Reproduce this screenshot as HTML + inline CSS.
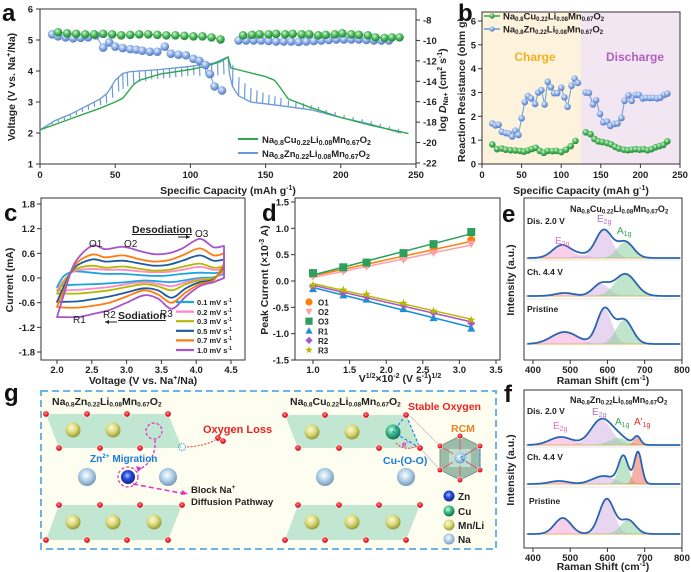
<!DOCTYPE html>
<html><head><meta charset="utf-8">
<style>
body{margin:0;background:#fff;}
svg{display:block;font-family:"Liberation Sans",Arial,sans-serif;}
.t{font-size:9.5px;font-weight:bold;fill:#222;}
.lab{font-size:10.5px;font-weight:bold;fill:#222;}
.pl{font-size:24px;font-weight:bold;fill:#111;}
</style></head>
<body>
<svg id="fig" width="691" height="572" viewBox="0 0 691 572">
<defs>
<radialGradient id="gY" cx="40%" cy="35%" r="65%"><stop offset="0" stop-color="#fbfbd8"/><stop offset="0.5" stop-color="#dcdc80"/><stop offset="1" stop-color="#9a9a30"/></radialGradient>
<radialGradient id="gNa" cx="45%" cy="40%" r="65%"><stop offset="0" stop-color="#ffffff"/><stop offset="0.45" stop-color="#b8d4ec"/><stop offset="1" stop-color="#6a8eae"/></radialGradient>
<radialGradient id="gZn" cx="45%" cy="40%" r="65%"><stop offset="0" stop-color="#a8c8ff"/><stop offset="0.4" stop-color="#2a50e0"/><stop offset="1" stop-color="#101a80"/></radialGradient>
<radialGradient id="gCu" cx="40%" cy="35%" r="65%"><stop offset="0" stop-color="#c8ffe8"/><stop offset="0.5" stop-color="#3ab880"/><stop offset="1" stop-color="#127050"/></radialGradient>
<radialGradient id="gGb" cx="40%" cy="35%" r="65%"><stop offset="0" stop-color="#d8f5d8"/><stop offset="0.5" stop-color="#4cbb5a"/><stop offset="1" stop-color="#23803a"/></radialGradient>
<radialGradient id="gBb" cx="40%" cy="35%" r="65%"><stop offset="0" stop-color="#eef4ff"/><stop offset="0.5" stop-color="#8eb0e8"/><stop offset="1" stop-color="#5078c0"/></radialGradient>
<radialGradient id="gO" cx="45%" cy="40%" r="60%"><stop offset="0" stop-color="#ff9090"/><stop offset="0.6" stop-color="#e81c24"/><stop offset="1" stop-color="#b00010"/></radialGradient>
</defs>

<!-- PANEL A -->
<g id="pa">
<text class="pl" x="2" y="21">a</text>
<rect x="40" y="9" width="376" height="155" fill="none" stroke="#333" stroke-width="1"/>
<g id="aMarks"></g>
<text class="lab" transform="translate(15,87) rotate(-90)" text-anchor="middle">Voltage (V vs. Na<tspan font-size="7" dy="-4">+</tspan><tspan dy="4">/Na)</tspan></text>
<text class="lab" transform="translate(446,90) rotate(-90)" text-anchor="middle">log <tspan font-style="italic">D</tspan><tspan font-size="7" dy="2">Na+</tspan><tspan dy="-2"> (cm</tspan><tspan font-size="7" dy="-4">2</tspan><tspan dy="4"> s</tspan><tspan font-size="7" dy="-4">-1</tspan><tspan dy="4">)</tspan></text>
<text class="lab" x="228" y="194" text-anchor="middle">Specific Capacity (mAh g<tspan font-size="7" dy="-4">-1</tspan><tspan dy="4">)</tspan></text>
<line x1="238" y1="139" x2="258" y2="139" stroke="#2ea84a" stroke-width="2"/>
<text class="t" x="262" y="143" font-size="10">Na<tspan font-size="7" dy="2">0.8</tspan><tspan dy="-2">Cu</tspan><tspan font-size="7" dy="2">0.22</tspan><tspan dy="-2">Li</tspan><tspan font-size="7" dy="2">0.08</tspan><tspan dy="-2">Mn</tspan><tspan font-size="7" dy="2">0.67</tspan><tspan dy="-2">O</tspan><tspan font-size="7" dy="2">2</tspan></text>
<line x1="238" y1="153" x2="258" y2="153" stroke="#6a9ad8" stroke-width="2"/>
<text class="t" x="262" y="157" font-size="10">Na<tspan font-size="7" dy="2">0.8</tspan><tspan dy="-2">Zn</tspan><tspan font-size="7" dy="2">0.22</tspan><tspan dy="-2">Li</tspan><tspan font-size="7" dy="2">0.08</tspan><tspan dy="-2">Mn</tspan><tspan font-size="7" dy="2">0.67</tspan><tspan dy="-2">O</tspan><tspan font-size="7" dy="2">2</tspan></text>
</g>

<!-- PANEL B -->
<g id="pb">
<text class="pl" x="458" y="21">b</text>
<rect x="482" y="12" width="99" height="152" fill="#fdf3dc"/>
<rect x="581" y="12" width="99" height="152" fill="#f2e6f2"/>
<rect x="482" y="12" width="198" height="152" fill="none" stroke="#333"/>
<text x="535" y="61" text-anchor="middle" font-size="12" font-weight="bold" fill="#f5b021">Charge</text>
<text x="635" y="61" text-anchor="middle" font-size="12" font-weight="bold" fill="#b060c0">Discharge</text>
<g id="bMarks"></g>
<text class="lab" transform="translate(465,90) rotate(-90)" text-anchor="middle">Reaction Resistance (ohm g)</text>
<text class="lab" x="581" y="194" text-anchor="middle">Specific Capacity (mAh g<tspan font-size="7" dy="-4">-1</tspan><tspan dy="4">)</tspan></text>
<line x1="484" y1="16" x2="500" y2="16" stroke="#2ea84a" stroke-width="1.5"/><circle cx="492" cy="16" r="2.6" fill="url(#gGb)"/>
<text class="t" x="503" y="19.5" font-size="9.5">Na<tspan font-size="6" dy="1.5">0.8</tspan><tspan dy="-1.5">Cu</tspan><tspan font-size="6" dy="1.5">0.22</tspan><tspan dy="-1.5">Li</tspan><tspan font-size="6" dy="1.5">0.08</tspan><tspan dy="-1.5">Mn</tspan><tspan font-size="6" dy="1.5">0.67</tspan><tspan dy="-1.5">O</tspan><tspan font-size="6" dy="1.5">2</tspan></text>
<line x1="484" y1="29" x2="500" y2="29" stroke="#6a9ad8" stroke-width="1.5"/><circle cx="492" cy="29" r="2.6" fill="url(#gBb)"/>
<text class="t" x="503" y="32.5" font-size="9.5">Na<tspan font-size="6" dy="1.5">0.8</tspan><tspan dy="-1.5">Zn</tspan><tspan font-size="6" dy="1.5">0.22</tspan><tspan dy="-1.5">Li</tspan><tspan font-size="6" dy="1.5">0.08</tspan><tspan dy="-1.5">Mn</tspan><tspan font-size="6" dy="1.5">0.67</tspan><tspan dy="-1.5">O</tspan><tspan font-size="6" dy="1.5">2</tspan></text>
</g>

<!-- PANEL C -->
<g id="pc">
<text class="pl" x="4" y="221">c</text>
<rect x="41" y="198" width="204" height="162" fill="none" stroke="#333"/>
<g id="cMarks"></g>
<text class="lab" transform="translate(13,280) rotate(-90)" text-anchor="middle">Current (mA)</text>
<text class="lab" x="143" y="384" text-anchor="middle">Voltage (V vs. Na<tspan font-size="7" dy="-4">+</tspan><tspan dy="4">/Na)</tspan></text>
<text x="89" y="247" font-size="10" fill="#222">O1</text>
<text x="124" y="247" font-size="10" fill="#222">O2</text>
<text x="195" y="237" font-size="10" fill="#222">O3</text>
<text x="73" y="323" font-size="10" fill="#222">R1</text>
<text x="103" y="318" font-size="10" fill="#222">R2</text>
<text x="160" y="317" font-size="10" fill="#222">R3</text>
<text x="132" y="233" font-size="10.5" font-weight="bold" fill="#222" text-decoration="underline">Desodiation</text>
<path d="M178 237 L190 237" stroke="#222" stroke-width="1"/><path d="M190 237 l-4 -2 v4z" fill="#222"/>
<text x="118" y="319" font-size="10.5" font-weight="bold" fill="#222" text-decoration="underline">Sodiation</text>
<path d="M105 322 L117 322" stroke="#222" stroke-width="1"/><path d="M105 322 l4 -2 v4z" fill="#222"/>
<g id="cLegend"></g>
<text x="197" y="305" font-size="7.5" font-weight="bold" fill="#222">0.1 mV s<tspan font-size="5" dy="-3">-1</tspan></text>
<text x="197" y="315" font-size="7.5" font-weight="bold" fill="#222">0.2 mV s<tspan font-size="5" dy="-3">-1</tspan></text>
<text x="197" y="324" font-size="7.5" font-weight="bold" fill="#222">0.3 mV s<tspan font-size="5" dy="-3">-1</tspan></text>
<text x="197" y="334" font-size="7.5" font-weight="bold" fill="#222">0.5 mV s<tspan font-size="5" dy="-3">-1</tspan></text>
<text x="197" y="343" font-size="7.5" font-weight="bold" fill="#222">0.7 mV s<tspan font-size="5" dy="-3">-1</tspan></text>
<text x="197" y="353" font-size="7.5" font-weight="bold" fill="#222">1.0 mV s<tspan font-size="5" dy="-3">-1</tspan></text>
</g>

<!-- PANEL D -->
<g id="pd">
<text class="pl" x="262" y="221">d</text>
<rect x="295" y="198" width="205" height="162" fill="none" stroke="#333"/>
<g id="dMarks"></g>
<text class="lab" transform="translate(268,280) rotate(-90)" text-anchor="middle">Peak Current (×10<tspan font-size="7" dy="-4">-3</tspan><tspan dy="4"> A)</tspan></text>
<text class="lab" x="400" y="382" text-anchor="middle">V<tspan font-size="7" dy="-4">1/2</tspan><tspan dy="4">×10</tspan><tspan font-size="7" dy="-4">-2</tspan><tspan dy="4"> (V s</tspan><tspan font-size="7" dy="-4">-1</tspan><tspan dy="4">)</tspan><tspan font-size="7" dy="-4">1/2</tspan></text>
<g id="dLegend"></g>
</g>

<!-- PANEL E -->
<g id="pe">
<text class="pl" x="502" y="222">e</text>
<rect x="524" y="198" width="158" height="162" fill="none" stroke="#333"/>
<g id="eMarks"></g>
<text x="570" y="212" font-size="9" font-weight="bold" fill="#222">Na<tspan font-size="6" dy="1.5">0.8</tspan><tspan dy="-1.5">Cu</tspan><tspan font-size="6" dy="1.5">0.22</tspan><tspan dy="-1.5">Li</tspan><tspan font-size="6" dy="1.5">0.08</tspan><tspan dy="-1.5">Mn</tspan><tspan font-size="6" dy="1.5">0.67</tspan><tspan dy="-1.5">O</tspan><tspan font-size="6" dy="1.5">2</tspan></text>
<text x="527" y="224" font-size="8.5" font-weight="bold" fill="#222">Dis. 2.0 V</text>
<text x="527" y="275" font-size="8.5" font-weight="bold" fill="#222">Ch. 4.4 V</text>
<text x="527" y="312" font-size="8.5" font-weight="bold" fill="#222">Pristine</text>
<text x="555" y="244" font-size="10" fill="#f06ac0">E<tspan font-size="7" dy="2">2g</tspan></text>
<text x="597" y="222" font-size="10" fill="#b070c8">E<tspan font-size="7" dy="2">2g</tspan></text>
<text x="617" y="234" font-size="10" fill="#30a850">A<tspan font-size="7" dy="2">1g</tspan></text>
<text class="lab" transform="translate(514,280) rotate(-90)" text-anchor="middle">Intensity (a.u.)</text>
<text class="lab" x="603" y="384" text-anchor="middle">Raman Shift (cm<tspan font-size="7" dy="-4">-1</tspan><tspan dy="4">)</tspan></text>
</g>

<!-- PANEL F -->
<g id="pf">
<text class="pl" x="504" y="402">f</text>
<rect x="524" y="390" width="158" height="158" fill="none" stroke="#333"/>
<g id="fMarks"></g>
<text x="570" y="403" font-size="9" font-weight="bold" fill="#222">Na<tspan font-size="6" dy="1.5">0.8</tspan><tspan dy="-1.5">Zn</tspan><tspan font-size="6" dy="1.5">0.22</tspan><tspan dy="-1.5">Li</tspan><tspan font-size="6" dy="1.5">0.08</tspan><tspan dy="-1.5">Mn</tspan><tspan font-size="6" dy="1.5">0.67</tspan><tspan dy="-1.5">O</tspan><tspan font-size="6" dy="1.5">2</tspan></text>
<text x="527" y="414" font-size="8.5" font-weight="bold" fill="#222">Dis. 2.0 V</text>
<text x="527" y="460" font-size="8.5" font-weight="bold" fill="#222">Ch. 4.4 V</text>
<text x="529" y="504" font-size="8.5" font-weight="bold" fill="#222">Pristine</text>
<text x="553" y="429" font-size="10" fill="#f06ac0">E<tspan font-size="7" dy="2">2g</tspan></text>
<text x="592" y="415" font-size="10" fill="#b070c8">E<tspan font-size="7" dy="2">2g</tspan></text>
<text x="615" y="425" font-size="10" fill="#30a850">A<tspan font-size="7" dy="2">1g</tspan></text>
<text x="634" y="425" font-size="10" fill="#ee2a2a">A'<tspan font-size="7" dy="2">1g</tspan></text>
<text class="lab" transform="translate(514,470) rotate(-90)" text-anchor="middle">Intensity (a.u.)</text>
<text class="lab" x="603" y="570" text-anchor="middle">Raman Shift (cm<tspan font-size="7" dy="-4">-1</tspan><tspan dy="4">)</tspan></text>
</g>

<!-- PANEL G -->
<g id="pg">
<text class="pl" x="4" y="401">g</text>
<rect x="41" y="391" width="455" height="158" fill="#fdfdf0" stroke="#6cb4e8" stroke-width="2" stroke-dasharray="7 4"/>
<g id="gStruct"></g>
<text x="52" y="405" font-size="10.5" font-weight="bold" fill="#222">Na<tspan font-size="6.5" dy="1.5">0.8</tspan><tspan dy="-1.5">Zn</tspan><tspan font-size="6.5" dy="1.5">0.22</tspan><tspan dy="-1.5">Li</tspan><tspan font-size="6.5" dy="1.5">0.08</tspan><tspan dy="-1.5">Mn</tspan><tspan font-size="6.5" dy="1.5">0.67</tspan><tspan dy="-1.5">O</tspan><tspan font-size="6.5" dy="1.5">2</tspan></text>
<text x="290" y="405" font-size="10.5" font-weight="bold" fill="#222">Na<tspan font-size="6.5" dy="1.5">0.8</tspan><tspan dy="-1.5">Cu</tspan><tspan font-size="6.5" dy="1.5">0.22</tspan><tspan dy="-1.5">Li</tspan><tspan font-size="6.5" dy="1.5">0.08</tspan><tspan dy="-1.5">Mn</tspan><tspan font-size="6.5" dy="1.5">0.67</tspan><tspan dy="-1.5">O</tspan><tspan font-size="6.5" dy="1.5">2</tspan></text>
<text x="203" y="433" font-size="11" font-weight="bold" fill="#ee2020">Oxygen Loss</text>
<text x="90" y="462" font-size="10" font-weight="bold" fill="#1a78e0">Zn<tspan font-size="6.5" dy="-4">2+</tspan><tspan dy="4"> Migration</tspan></text>
<text x="191" y="493" font-size="9.5" font-weight="bold" fill="#222">Block Na<tspan font-size="6.5" dy="-4">+</tspan></text>
<text x="191" y="505" font-size="9.5" font-weight="bold" fill="#222">Diffusion Pathway</text>
<text x="408" y="410" font-size="10.5" font-weight="bold" fill="#ee2020">Stable Oxygen</text>
<text x="383" y="464" font-size="10.5" font-weight="bold" fill="#1a78e0">Cu-(O-O)</text>
<text x="451" y="432" font-size="10.5" font-weight="bold" fill="#f08020">RCM</text>
<text x="402" y="447" font-size="8" font-weight="bold" fill="#e020c0">e<tspan font-size="6" dy="-3">-</tspan></text>
<circle cx="449" cy="496" r="5.5" fill="url(#gZn)"/>
<text x="458" y="500" font-size="10" font-weight="bold" fill="#222">Zn</text>
<circle cx="449" cy="511" r="5.5" fill="url(#gCu)"/>
<text x="458" y="515" font-size="10" font-weight="bold" fill="#222">Cu</text>
<circle cx="449" cy="525" r="5.5" fill="url(#gY)"/>
<text x="458" y="529" font-size="10" font-weight="bold" fill="#222">Mn/Li</text>
<circle cx="449" cy="539" r="5.5" fill="url(#gNa)"/>
<text x="458" y="543" font-size="10" font-weight="bold" fill="#222">Na</text>
</g>
</svg>

<script>
// ===== Panel a data =====
const aCuChargeCap = [0,20,40,50,55,58,62,66,80,100,110,120,125];
const aCuChargeV   = [2.1,2.45,2.8,3.0,3.12,3.3,3.55,3.7,3.9,4.05,4.15,4.3,4.45];
const aCuDisCap = [125,127,135,150,156,160,165,180,200,220,245];
const aCuDisV   = [4.45,4.1,4.0,3.82,3.7,3.45,3.1,2.82,2.5,2.25,1.98];
const aZnChargeCap = [0,10,20,30,40,45,50,55,60,80,100,115,125];
const aZnChargeV   = [2.1,2.4,2.6,2.85,3.1,3.3,3.7,3.92,3.98,4.05,4.15,4.25,4.45];
const aZnDisCap = [125,126,128,132,140,160,180,200,220,240];
const aZnDisV   = [4.45,3.9,3.5,3.2,3.0,2.88,2.75,2.5,2.28,2.0];
const aZnChargeSpikeCap = [8,12,16,20,24,28,32,36,40,44,48,52,55,58,62,66,70,74,78,82,86,90,94,98,102,106,110,114,118,122];
const aZnChargeSpikeDepth = [0.05,0.08,0.1,0.1,0.12,0.12,0.15,0.15,0.2,0.3,0.4,0.45,0.5,0.45,0.4,0.35,0.35,0.3,0.3,0.3,0.3,0.3,0.3,0.3,0.3,0.35,0.35,0.4,0.45,0.5];
const aZnDisSpikeCap = [128,132,136,140,144,148,152,156,160,165,170,175,180,185,190,196,202,208,214,220,226,232,238];
const aZnDisSpikeDepth = [0.7,0.6,0.5,0.45,0.4,0.35,0.3,0.28,0.25,0.2,0.2,0.18,0.15,0.15,0.12,0.12,0.1,0.1,0.1,0.1,0.1,0.1,0.1];
const aCuDCap = [12,18,24,30,36,42,48,54,60,66,72,78,84,90,96,102,108,114,120];
const aCuD = [-9.2,-9.3,-9.35,-9.4,-9.4,-9.35,-9.4,-9.5,-9.45,-9.4,-9.4,-9.45,-9.5,-9.5,-9.55,-9.6,-9.6,-9.7,-9.9];
const aZnDCap = [8,12,17,22,27,32,37,42,46,50,55,60,64,68,73,78,83,87,92,97,102,106,110,113,116,121];
const aZnD = [-9.4,-9.6,-9.7,-9.8,-9.75,-9.7,-9.5,-10.7,-10.2,-10.6,-10.75,-10.85,-10.9,-11.0,-11.1,-11.1,-10.6,-11.3,-11.4,-11.45,-11.8,-12.0,-12.4,-13.3,-14.5,-14.9];
const aCuDisDCap = [135,141,146,152,157,163,168,174,179,185,190,196,201,207,212,218,223,229,234,239];
const aCuDisD = [-9.5,-9.45,-9.4,-9.4,-9.35,-9.4,-9.35,-9.4,-9.4,-9.5,-9.45,-9.4,-9.3,-9.4,-9.45,-9.5,-9.7,-9.75,-9.7,-9.7];
const aZnDisDCap = [132,137,142,147,152,157,162,167,172,177,182,187,192,197,202,207,212,217,222,227,232];
const aZnDisD = [-10.0,-10.0,-10.0,-10.0,-10.05,-10.1,-10.1,-10.1,-10.15,-10.1,-10.05,-10.0,-9.95,-9.9,-9.9,-9.9,-9.9,-9.95,-10.0,-10.0,-10.0];
const aXTicks = [0,50,100,150,200,250];
const aYTicks = [1,2,3,4,5,6];
const aY2Ticks = [-22,-20,-18,-16,-14,-12,-10,-8];

// ===== Panel b data =====
const bCuCap = [13,19,25,30,36,42,48,53,58,63,68,73,78,83,89,94,100,106,112,118];
const bCuR = [0.82,0.62,0.65,0.6,0.58,0.57,0.55,0.52,0.57,0.63,0.68,0.55,0.47,0.55,0.54,0.55,0.5,0.6,0.75,0.97];
const bZnCap = [13,17,21,25,30,34,38,42,46,50,54,58,62,67,71,75,79,83,87,91,95,100,104,108,113,117,121];
const bZnR = [1.7,1.62,1.65,1.35,1.3,1.28,1.15,1.4,1.22,1.92,2.6,2.85,2.75,2.52,3.0,3.1,2.5,3.45,3.22,2.97,2.97,3.2,2.8,2.4,3.28,3.58,3.4];
const bZnDisCap = [131,135,140,144,149,153,158,162,167,171,176,180,185,189,194,198,203,207,212,216,221,225,230,234];
const bZnDisR = [3.0,2.98,2.5,2.68,2.1,1.75,1.78,1.6,1.68,1.7,1.93,2.65,2.88,2.65,2.9,2.9,2.75,2.78,2.77,2.78,2.75,2.78,2.9,2.95];
const bCuDisCap = [131,137,142,147,152,158,163,168,173,179,184,189,194,199,204,209,214,219,224,229,234];
const bCuDisR = [1.33,1.25,1.05,0.95,0.92,0.88,0.82,0.72,0.65,0.6,0.58,0.6,0.62,0.6,0.62,0.58,0.62,0.7,0.75,0.8,0.95];
const bXTicks = [0,50,100,150,200,250];
const bYTicks = [0,1,2,3,4,5,6];

// ===== Panel c data =====
const cRates = ["0.1","0.2","0.3","0.5","0.7","1.0"];
const cColors = ["#1aa7e0","#ff86c8","#b5b800","#1f5a9c","#ff7a10","#a855c8"];
const cVup = [2.0,2.1,2.25,2.5,2.7,2.95,3.2,3.4,3.6,3.8,4.05,4.25,4.4];
const cVlow = [4.4,4.25,4.05,3.85,3.65,3.45,3.25,3.0,2.75,2.5,2.3,2.1,2.0];
const cUp01 = [-0.22,0.05,0.16,0.13,0.1,0.1,0.07,0.05,0.06,0.1,0.13,0.12,0.15];
const cLow01 = [0.1,0.02,0,-0.05,-0.1,-0.08,-0.06,-0.1,-0.13,-0.15,-0.16,-0.18,-0.22];
const cUp02 = [-0.3,-0.05,0.17,0.22,0.2,0.2,0.16,0.14,0.15,0.2,0.27,0.2,0.22];
const cLow02 = [0.15,0.0,-0.03,-0.1,-0.2,-0.14,-0.1,-0.15,-0.22,-0.26,-0.29,-0.3,-0.3];
const cUp03 = [-0.38,-0.1,0.2,0.3,0.25,0.28,0.22,0.18,0.2,0.27,0.35,0.25,0.28];
const cLow03 = [0.2,0,-0.05,-0.15,-0.3,-0.2,-0.15,-0.22,-0.3,-0.35,-0.38,-0.38,-0.38];
const cUp05 = [-0.58,-0.2,0.25,0.45,0.4,0.42,0.35,0.3,0.32,0.42,0.55,0.42,0.45];
const cLow05 = [0.3,-0.03,-0.1,-0.25,-0.48,-0.3,-0.25,-0.35,-0.45,-0.52,-0.57,-0.58,-0.58];
const cUp07 = [-0.7,-0.3,0.3,0.57,0.5,0.55,0.45,0.4,0.43,0.55,0.72,0.55,0.6];
const cLow07 = [0.35,-0.05,-0.15,-0.35,-0.6,-0.4,-0.3,-0.45,-0.6,-0.68,-0.72,-0.72,-0.7];
const cUp10 = [-0.95,-0.4,0.35,0.78,0.7,0.76,0.65,0.58,0.6,0.72,0.95,0.75,0.78];
const cLow10 = [0.0,-0.1,-0.2,-0.45,-0.75,-0.5,-0.42,-0.6,-0.78,-0.88,-0.95,-0.95,-0.95];
const cXTicks = [2.0,2.5,3.0,3.5,4.0,4.5];
const cYTicks = [1.8,1.2,0.6,0.0,-0.6,-1.2,-1.8];

// ===== Panel d data =====
const dX = [1.0,1.414,1.732,2.236,2.646,3.162];
const dO1 = [0.12,0.22,0.31,0.45,0.58,0.78];
const dO2 = [0.08,0.18,0.27,0.4,0.53,0.7];
const dO3 = [0.15,0.26,0.35,0.53,0.7,0.93];
const dR1 = [-0.15,-0.27,-0.35,-0.53,-0.7,-0.9];
const dR2 = [-0.1,-0.22,-0.3,-0.46,-0.6,-0.8];
const dR3 = [-0.08,-0.17,-0.25,-0.42,-0.57,-0.74];
const dNames = ["O1","O2","O3","R1","R2","R3"];
const dColors = ["#ff7f0e","#ffa0a8","#2ca05a","#1a8fd8","#a855c8","#b8b800"];
const dXTicks = [1.0,1.5,2.0,2.5,3.0,3.5];
const dYTicks = [1.5,1.0,0.5,0.0,-0.5,-1.0,-1.5];

// ===== Panel e/f data (peak center, amplitude, width) =====
const rXTicks = [400,500,600,700,800];
const eDisCenters = [478,530,590,648]; const eDisAmps = [13,3,28,16]; const eDisWidths = [25,20,22,22];
const eChCenters = [485,583,648]; const eChAmps = [3,12,22]; const eChWidths = [25,22,28];
const ePriCenters = [485,592,645]; const ePriAmps = [12,35,24]; const ePriWidths = [35,20,22];
const fDisCenters = [475,583,630,680]; const fDisAmps = [8,25,7,8]; const fDisWidths = [30,28,25,9];
const fChCenters = [470,590,643,682]; const fChAmps = [3,8,27,32]; const fChWidths = [25,30,13,10];
const fPriCenters = [480,598,655]; const fPriAmps = [16,35,14]; const fPriWidths = [22,20,20];

const NS = "http://www.w3.org/2000/svg";
function mk(tag, attrs, parent){const e=document.createElementNS(NS,tag);for(const k in attrs)e.setAttribute(k,attrs[k]);parent.appendChild(e);return e;}
function ptsPath(xs,ys){return xs.map((x,i)=>(i?'L':'M')+x.toFixed(1)+' '+ys[i].toFixed(1)).join(' ');}
function smooth(xs,ys){let d='M'+xs[0]+' '+ys[0];for(let i=0;i<xs.length-1;i++){const x0=xs[i-1]??xs[i],y0=ys[i-1]??ys[i],x1=xs[i],y1=ys[i],x2=xs[i+1],y2=ys[i+1],x3=xs[i+2]??x2,y3=ys[i+2]??y2;d+=' C'+(x1+(x2-x0)/6).toFixed(1)+' '+(y1+(y2-y0)/6).toFixed(1)+' '+(x2-(x3-x1)/6).toFixed(1)+' '+(y2-(y3-y1)/6).toFixed(1)+' '+x2.toFixed(1)+' '+y2.toFixed(1);}return d;}
function interp(xs,ys,x){for(let i=0;i<xs.length-1;i++){if(x>=xs[i]&&x<=xs[i+1]){return ys[i]+(ys[i+1]-ys[i])*(x-xs[i])/(xs[i+1]-xs[i]);}}return x<xs[0]?ys[0]:ys[ys.length-1];}

// ===== Draw panel a =====
(function(){
const g=document.getElementById('aMarks');
const X=v=>40+v*376/250, Y=v=>164-(v-1)*31, Y2=v=>163-(v+22)*143/14;
aXTicks.forEach(t=>{mk('line',{x1:X(t),y1:164,x2:X(t),y2:168,stroke:'#333'},g);
 const tx=mk('text',{x:X(t),y:178,'text-anchor':'middle',class:'t'},g);tx.textContent=t;});
aYTicks.forEach(t=>{mk('line',{x1:36,y1:Y(t),x2:40,y2:Y(t),stroke:'#333'},g);
 const tx=mk('text',{x:33,y:Y(t)+3.5,'text-anchor':'end',class:'t'},g);tx.textContent=t;});
aY2Ticks.forEach(t=>{mk('line',{x1:416,y1:Y2(t),x2:420,y2:Y2(t),stroke:'#333'},g);
 const tx=mk('text',{x:423,y:Y2(t)+3.5,class:'t'},g);tx.textContent=t;});
let p=mk('path',{d:ptsPath(aZnChargeCap.map(X),aZnChargeV.map(Y))+' '+ptsPath(aZnDisCap.map(X),aZnDisV.map(Y)).replace('M','L'),fill:'none',stroke:'#6a9ad8','stroke-width':1.3},g);

let sd='';aZnChargeSpikeCap.forEach((c,i)=>{const v=interp(aZnChargeCap,aZnChargeV,c);sd+='M'+X(c)+' '+Y(v)+' L'+(X(c)+0.5)+' '+Y(v-aZnChargeSpikeDepth[i])+' ';});
aZnDisSpikeCap.forEach((c,i)=>{const v=interp(aZnDisCap,aZnDisV,c);sd+='M'+X(c)+' '+Y(v)+' L'+(X(c)+0.5)+' '+Y(v+aZnDisSpikeDepth[i])+' ';});
p=mk('path',{d:sd,fill:'none',stroke:'#6a9ad8','stroke-width':1.2},g);
p=mk('path',{d:ptsPath(aCuChargeCap.map(X),aCuChargeV.map(Y))+' '+ptsPath(aCuDisCap.map(X),aCuDisV.map(Y)).replace('M','L'),fill:'none',stroke:'#2ea84a','stroke-width':1.4},g);

function balls(caps,vals,fill,stroke,name){p=mk('path',{d:ptsPath(caps.map(X),vals.map(Y2)),fill:'none',stroke:stroke,'stroke-width':1},g);
 caps.forEach((c,i)=>{const b=mk('circle',{cx:X(c),cy:Y2(vals[i]),r:4.3,fill:fill},g);});}
balls(aZnDCap,aZnD,'url(#gBb)','#6a9ad8','zn-diffusion');
balls(aZnDisDCap,aZnDisD,'url(#gBb)','#6a9ad8','zn-diffusion-dis');
balls(aCuDCap,aCuD,'url(#gGb)','#2ea84a','cu-diffusion');
balls(aCuDisDCap,aCuDisD,'url(#gGb)','#2ea84a','cu-diffusion-dis');
})();

// ===== Draw panel b =====
(function(){
const g=document.getElementById('bMarks');
const X=v=>482+v*198/250, Y=v=>164-v*143/6;
bXTicks.forEach(t=>{mk('line',{x1:X(t),y1:164,x2:X(t),y2:168,stroke:'#333'},g);
 const tx=mk('text',{x:X(t),y:178,'text-anchor':'middle',class:'t'},g);tx.textContent=t;});
bYTicks.forEach(t=>{mk('line',{x1:478,y1:Y(t),x2:482,y2:Y(t),stroke:'#333'},g);
 const tx=mk('text',{x:476,y:Y(t)+3.5,'text-anchor':'end',class:'t'},g);tx.textContent=t;});
function ser(caps,vals,fill,stroke,name){let p=mk('path',{d:ptsPath(caps.map(X),vals.map(Y)),fill:'none',stroke:stroke,'stroke-width':1},g);
 caps.forEach((c,i)=>{const b=mk('circle',{cx:X(c),cy:Y(vals[i]),r:3.3,fill:fill},g);});}
ser(bZnCap,bZnR,'url(#gBb)','#6a9ad8','zn-resistance-charge');
ser(bZnDisCap,bZnDisR,'url(#gBb)','#6a9ad8','zn-resistance-discharge');
ser(bCuCap,bCuR,'url(#gGb)','#2ea84a','cu-resistance-charge');
ser(bCuDisCap,bCuDisR,'url(#gGb)','#2ea84a','cu-resistance-discharge');
})();

// ===== Draw panel c =====
(function(){
const g=document.getElementById('cMarks');
const X=v=>57+(v-2)*174/2.5, Y=v=>204+(1.8-v)*148/3.6;
cXTicks.forEach(t=>{mk('line',{x1:X(t),y1:360,x2:X(t),y2:364,stroke:'#333'},g);
 const tx=mk('text',{x:X(t),y:373,'text-anchor':'middle',class:'t'},g);tx.textContent=t.toFixed(1);});
cYTicks.forEach(t=>{mk('line',{x1:37,y1:Y(t),x2:41,y2:Y(t),stroke:'#333'},g);
 const tx=mk('text',{x:35,y:Y(t)+3.5,'text-anchor':'end',class:'t'},g);tx.textContent=t.toFixed(1);});
const ups=[cUp01,cUp02,cUp03,cUp05,cUp07,cUp10], lows=[cLow01,cLow02,cLow03,cLow05,cLow07,cLow10];
ups.forEach((u,k)=>{const d=smooth(cVup.map(X),u.map(Y))+' '+smooth(cVlow.map(X),lows[k].map(Y)).replace('M','L')+' Z';
 const p=mk('path',{d:d,fill:'none',stroke:cColors[k],'stroke-width':1.8,'stroke-linejoin':'round'},g);});
const lg=document.getElementById('cLegend');
cRates.forEach((r,k)=>{const l=mk('line',{x1:176,y1:302+k*9.6,x2:194,y2:302+k*9.6,stroke:cColors[k],'stroke-width':2.2},lg);});
})();

// ===== Draw panel d =====
(function(){
const g=document.getElementById('dMarks');
const X=v=>313+(v-1)*183/2.5, Y=v=>202+(1.5-v)*158/3;
dXTicks.forEach(t=>{mk('line',{x1:X(t),y1:360,x2:X(t),y2:364,stroke:'#333'},g);
 const tx=mk('text',{x:X(t),y:373,'text-anchor':'middle',class:'t'},g);tx.textContent=t.toFixed(1);});
dYTicks.forEach(t=>{mk('line',{x1:291,y1:Y(t),x2:295,y2:Y(t),stroke:'#333'},g);
 const tx=mk('text',{x:289,y:Y(t)+3.5,'text-anchor':'end',class:'t'},g);tx.textContent=t.toFixed(1);});
const sets=[dO1,dO2,dO3,dR1,dR2,dR3];
function marker(k,cx,cy,parent,s){const c=dColors[k];let e;
 if(k===0)e=mk('circle',{cx:cx,cy:cy,r:s,fill:c},parent);
 else if(k===1)e=mk('path',{d:`M${cx-s} ${cy-s*0.8}L${cx+s} ${cy-s*0.8}L${cx} ${cy+s}Z`,fill:c},parent);
 else if(k===2)e=mk('rect',{x:cx-s,y:cy-s,width:2*s,height:2*s,fill:c},parent);
 else if(k===3)e=mk('path',{d:`M${cx-s} ${cy+s*0.8}L${cx+s} ${cy+s*0.8}L${cx} ${cy-s}Z`,fill:c},parent);
 else if(k===4)e=mk('path',{d:`M${cx} ${cy-s}L${cx+s} ${cy}L${cx} ${cy+s}L${cx-s} ${cy}Z`,fill:c},parent);
 else {let d='';for(let i=0;i<10;i++){const a=-Math.PI/2+i*Math.PI/5,r=i%2?s*0.45:s*1.1;d+=(i?'L':'M')+(cx+r*Math.cos(a)).toFixed(1)+' '+(cy+r*Math.sin(a)).toFixed(1);}e=mk('path',{d:d+'Z',fill:c},parent);}
 return e;}
sets.forEach((ys,k)=>{const n=dX.length;let sx=0,sy=0,sxx=0,sxy=0;dX.forEach((x,i)=>{sx+=x;sy+=ys[i];sxx+=x*x;sxy+=x*ys[i];});
 const m=(n*sxy-sx*sy)/(n*sxx-sx*sx), b=(sy-m*sx)/n;
 const l=mk('line',{x1:X(1.0),y1:Y(m*1.0+b),x2:X(3.162),y2:Y(m*3.162+b),stroke:dColors[k],'stroke-width':1.5},g);
 dX.forEach((x,i)=>{const e=marker(k,X(x),Y(ys[i]),g,4);});});
const lg=document.getElementById('dLegend');
dNames.forEach((nm,k)=>{const e=marker(k,309,302+k*9.6,lg,3.6);
 const t=mk('text',{x:318,y:305.5+k*9.6,'font-size':8,'font-weight':'bold',fill:'#222'},lg);t.textContent=nm;});
})();

// ===== Draw panels e / f =====
function raman(gid,spectra,ticksY,peakColors,sepYs){
const g=document.getElementById(gid);
const X=s=>525.5+(s-380)*0.3725;
rXTicks.forEach(t=>{mk('line',{x1:X(t),y1:ticksY,x2:X(t),y2:ticksY+4,stroke:'#333'},g);
 const tx=mk('text',{x:X(t),y:ticksY+13,'text-anchor':'middle',class:'t'},g);tx.textContent=t;});
sepYs.forEach(y=>{mk('line',{x1:524,y1:y,x2:682,y2:y,stroke:'#ddd','stroke-width':0.8},g);});
spectra.forEach(sp=>{const base=sp.base;
 mk('line',{x1:526,y1:base,x2:681,y2:base,stroke:'#e0b040','stroke-width':1},g);
 sp.c.forEach((c,i)=>{let d='M'+X(385)+' '+base;for(let s=385;s<=795;s+=3){d+=' L'+X(s).toFixed(1)+' '+(base-sp.a[i]*Math.exp(-Math.pow(s-c,2)/(2*sp.w[i]*sp.w[i]))).toFixed(1);}d+=' L'+X(795)+' '+base+'Z';
  const p=mk('path',{d:d,fill:peakColors(c),'fill-opacity':0.55,stroke:'none'},g);});
 let d='';for(let s=385;s<=795;s+=2){let v=0;sp.c.forEach((c,i)=>{v+=sp.a[i]*Math.exp(-Math.pow(s-c,2)/(2*sp.w[i]*sp.w[i]));});d+=(s===385?'M':'L')+X(s).toFixed(1)+' '+(base-v).toFixed(1)+' ';}
 const p=mk('path',{d:d,fill:'none',stroke:'#2a64b0','stroke-width':1.8},g);});
}
function pc(c){if(c<520)return '#f6a8d8';if(c<615)return '#d6b4e4';if(c<665)return '#8ed0a0';return '#f08878';}
raman('eMarks',[{base:258,c:eDisCenters,a:eDisAmps,w:eDisWidths},{base:296,c:eChCenters,a:eChAmps,w:eChWidths},{base:344,c:ePriCenters,a:ePriAmps,w:ePriWidths}],360,pc,[260,299]);
raman('fMarks',[{base:445,c:fDisCenters,a:fDisAmps,w:fDisWidths},{base:484,c:fChCenters,a:fChAmps,w:fChWidths},{base:534,c:fPriCenters,a:fPriAmps,w:fPriWidths}],548,c=>{if(c<520)return '#f6a8d8';if(c<615)return '#d6b4e4';if(c<665)return '#8ed0a0';return '#f07060';},[447,487]);

// ===== Panel g schematic =====
(function(){
const g=document.getElementById('gStruct');
function slab(x1,x2,x3,x4,yt,yb){const p=mk('polygon',{points:`${x1},${yt} ${x2},${yt} ${x4},${yb} ${x3},${yb}`,fill:'#b6e2cc','fill-opacity':0.85},g);}
function ball(x,y,r,f,n){const c=mk('circle',{cx:x,cy:y,r:r,fill:f},g);}
function oxy(x,y,r){const c=mk('circle',{cx:x,cy:y,r:r||3.2,fill:'url(#gO)',stroke:'#fff','stroke-width':0.6},g);}
slab(46,168,59,182,414,448); slab(59,182,46,168,505,540);
[73,113].forEach(x=>ball(x,430,7.5,'url(#gY)','mn-li-atom'));
[73,113,154].forEach(x=>ball(x,522,7.5,'url(#gY)','mn-li-atom'));
[87,168].forEach(x=>ball(x,477,9,'url(#gNa)','na-atom'));
ball(128,477,7,'url(#gZn)','zn-atom');
mk('circle',{cx:128,cy:477,r:10,fill:'none',stroke:'#e030c0','stroke-width':1.2,'stroke-dasharray':'3 2'},g);
mk('circle',{cx:154,cy:431,r:8,fill:'none',stroke:'#e030c0','stroke-width':1.2,'stroke-dasharray':'3 2'},g);
mk('path',{d:'M155 440 Q156 462 138 470',fill:'none',stroke:'#e030c0','stroke-width':1.3,'stroke-dasharray':'3 2'},g);
mk('path',{d:'M136 466 l2 6 l4 -4z',fill:'#e030c0'},g);
mk('path',{d:'M133 484 L186 494',fill:'none',stroke:'#e030c0','stroke-width':1.5,'stroke-dasharray':'5 3'},g);
mk('path',{d:'M188 494 l-6 -4 l-1 5z',fill:'#e030c0'},g);
mk('circle',{cx:182,cy:447,r:3.5,fill:'none',stroke:'#4a9ae0','stroke-width':1,'stroke-dasharray':'1.5 1'},g);
mk('path',{d:'M187 447 Q205 446 215 440',fill:'none',stroke:'#f04040','stroke-width':1.1,'stroke-dasharray':'2 1.5'},g);
[[218,438],[223,441]].forEach(p=>oxy(p[0],p[1]));
[46,87,127,168].forEach(x=>{oxy(x,414);oxy(x,540);});
[59,100,140].forEach(x=>oxy(x,448));
[59,100,140,182].forEach(x=>oxy(x,505));
slab(285,406,298,420,415,448); slab(298,420,285,406,505,540);
[312,352].forEach(x=>ball(x,432,7.5,'url(#gY)','mn-li-atom'));
[312,352,393].forEach(x=>ball(x,522,7.5,'url(#gY)','mn-li-atom'));
ball(393,432,7.5,'url(#gCu)','cu-atom');
[325,406].forEach(x=>ball(x,477,9,'url(#gNa)','na-atom'));
mk('path',{d:'M406 415 L393 432 L420 448 Z',fill:'none',stroke:'#1a78e0','stroke-width':1.1,'stroke-dasharray':'3 2'},g);
mk('path',{d:'M417 446 Q405 452 396 443',fill:'none',stroke:'#f04040','stroke-width':1.1,'stroke-dasharray':'2 1.5'},g);
mk('line',{x1:410,y1:416,x2:440,y2:446,stroke:'#bbb','stroke-width':0.7},g);
mk('line',{x1:422,y1:450,x2:440,y2:470,stroke:'#bbb','stroke-width':0.7},g);
const cx=460,cy=458;
const pg=mk('polygon',{points:`${cx},${cy-22} ${cx+20},${cy-12} ${cx+20},${cy+12} ${cx},${cy+22} ${cx-20},${cy+12} ${cx-20},${cy-12}`,fill:'#9cbcaa',stroke:'#7a9a88','stroke-width':1},g);

mk('polygon',{points:`${cx-11},${cy-9} ${cx+11},${cy-9} ${cx+11},${cy+9} ${cx-11},${cy+9}`,fill:'#d2ece4','fill-opacity':0.7},g);
ball(cx,cy,5.5,'url(#gNa)','rcm-center-atom');
mk('path',{d:`M${cx+20} ${cy-12} L${cx} ${cy} L${cx+20} ${cy+12}Z`,fill:'none',stroke:'#1a78e0','stroke-width':1,'stroke-dasharray':'3 2'},g);
[[cx,cy-22],[cx+20,cy-12],[cx+20,cy+12],[cx,cy+22],[cx-20,cy+12],[cx-20,cy-12]].forEach(p=>{mk('line',{x1:cx+(p[0]-cx)*0.35,y1:cy+(p[1]-cy)*0.35,x2:p[0],y2:p[1],stroke:'#e06060','stroke-width':1},g);oxy(p[0],p[1],2.8);});
[285,325,366,406].forEach(x=>{oxy(x,415);oxy(x,540);});
[298,339,379,420].forEach(x=>{oxy(x,448);oxy(x,505);});
})();
</script>
</body></html>
